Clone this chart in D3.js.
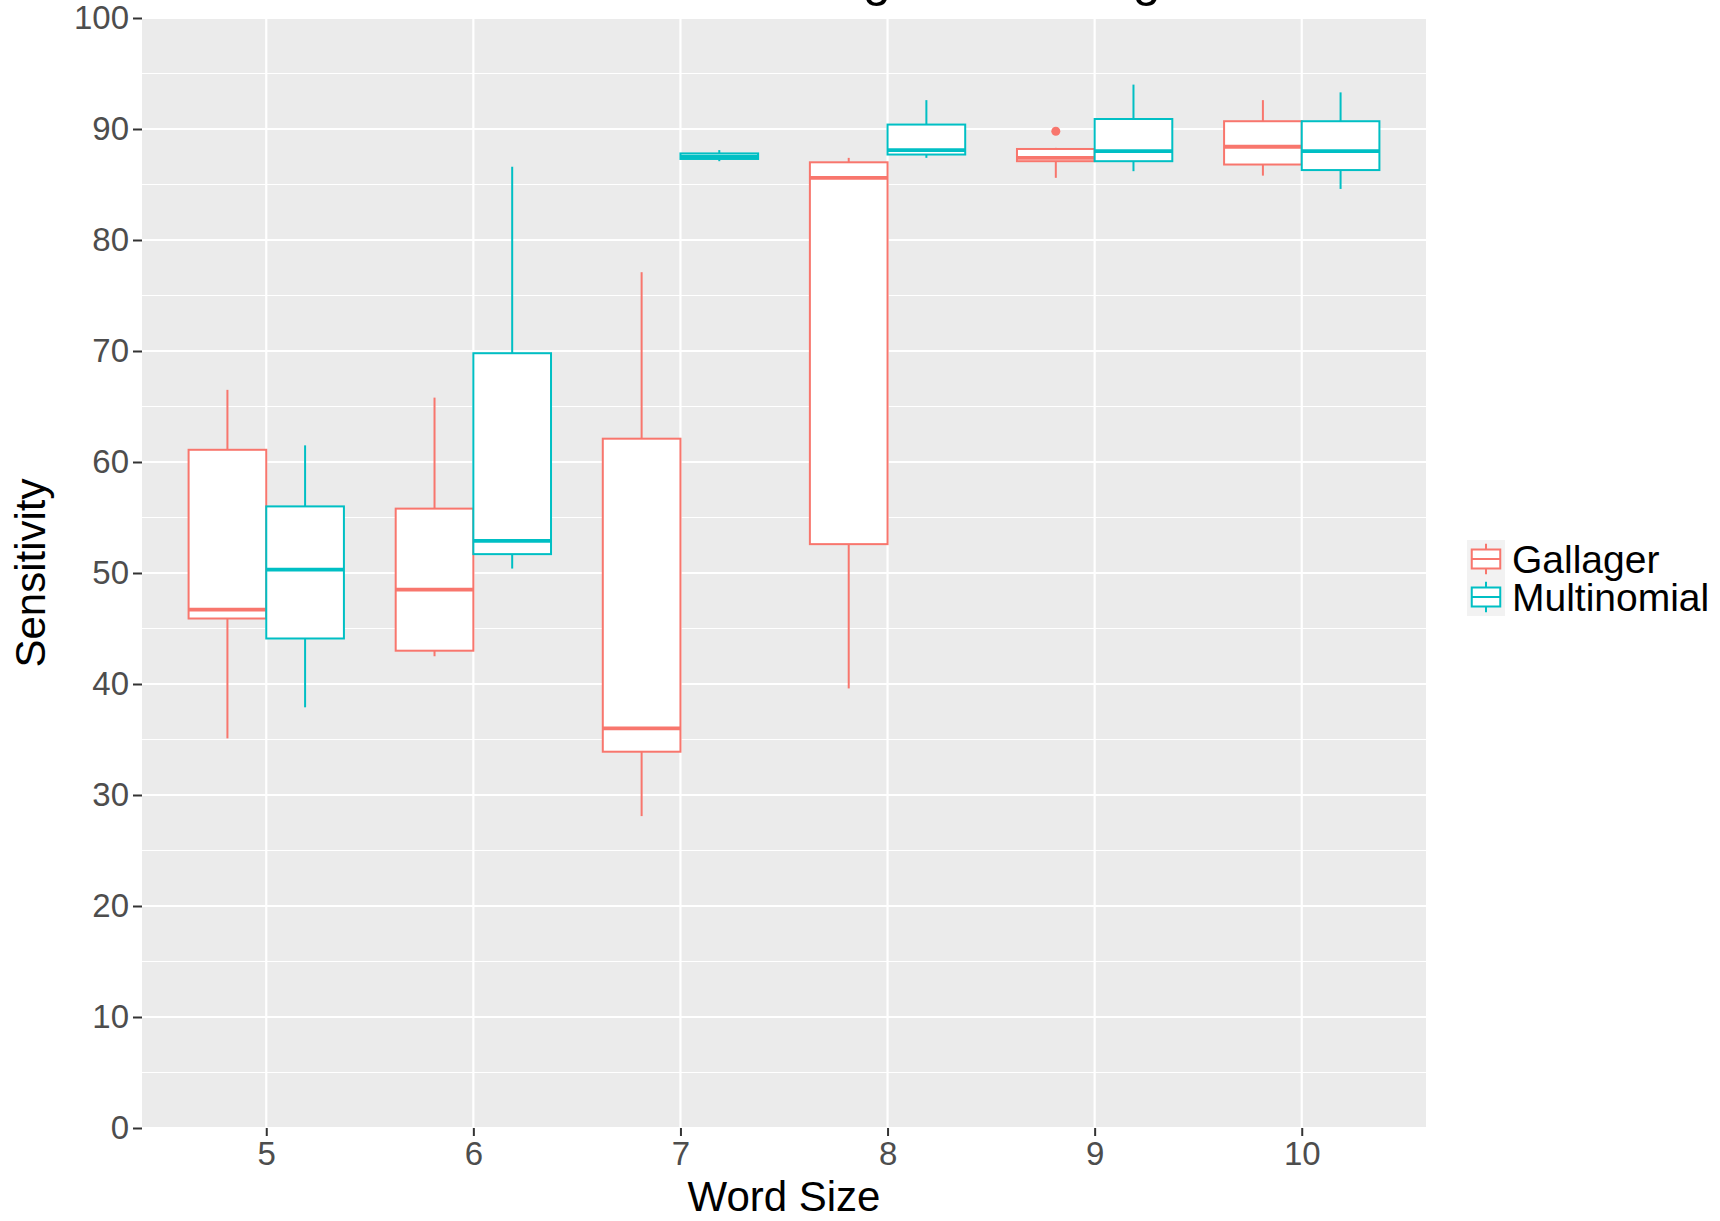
<!DOCTYPE html>
<html>
<head>
<meta charset="utf-8">
<script src="https://cdn.jsdelivr.net/npm/d3@7"></script>
<style>
  body { margin: 0; background: #fff; }
  svg { display: block; font-family: "Liberation Sans", Arial, sans-serif; }
</style>
</head>
<body>
<div id="chart"></div>
<script>
// categories
const wordSizes = ["5", "6", "7", "8", "9", "10"];
const methods = ["Gallager", "Multinomial"];
const yTicks = [0, 10, 20, 30, 40, 50, 60, 70, 80, 90, 100];

// box stats, one value per word size
const gallagerLow    = [35.1, 42.5, 28.1, 39.6, 85.6, 85.8];
const gallagerQ1     = [45.9, 43.0, 33.9, 52.6, 87.1, 86.8];
const gallagerMedian = [46.7, 48.5, 36.0, 85.6, 87.4, 88.4];
const gallagerQ3     = [61.1, 55.8, 62.1, 87.0, 88.2, 90.7];
const gallagerHigh   = [66.5, 65.8, 77.1, 87.4, 88.3, 92.6];

const multinomialLow    = [37.9, 50.4, 87.1, 87.4, 86.2, 84.6];
const multinomialQ1     = [44.1, 51.7, 87.3, 87.7, 87.1, 86.3];
const multinomialMedian = [50.3, 52.9, 87.5, 88.1, 88.0, 88.0];
const multinomialQ3     = [56.0, 69.8, 87.8, 90.4, 90.9, 90.7];
const multinomialHigh   = [61.5, 86.6, 88.1, 92.6, 94.0, 93.3];

// outliers
const outlierSizes   = ["9"];
const outlierMethods = ["Gallager"];
const outlierValues  = [89.8];

const colors = { "Gallager": "#F8766D", "Multinomial": "#00BFC4" };

function init() {
  const W = 1720, H = 1221;
  const panel = { left: 142, right: 1426, top: 18, bottom: 1128 };

  const boxes = [];
  wordSizes.forEach((s, i) => {
    boxes.push({ size: s, method: "Gallager", lo: gallagerLow[i], q1: gallagerQ1[i], med: gallagerMedian[i], q3: gallagerQ3[i], hi: gallagerHigh[i] });
    boxes.push({ size: s, method: "Multinomial", lo: multinomialLow[i], q1: multinomialQ1[i], med: multinomialMedian[i], q3: multinomialQ3[i], hi: multinomialHigh[i] });
  });
  const outliers = outlierValues.map((v, i) => ({ size: outlierSizes[i], method: outlierMethods[i], value: v }));

  const x = d3.scalePoint()
      .domain(wordSizes)
      .range([panel.left, panel.right])
      .padding(0.6);

  const dodge = d3.scaleBand()
      .domain(methods)
      .range([-0.375 * x.step(), 0.375 * x.step()]);

  const y = d3.scaleLinear()
      .domain([0, 100])
      .range([panel.bottom, panel.top]);

  const svg = d3.select("#chart")
      .append("svg")
      .attr("width", W)
      .attr("height", H);

  // panel background + grid
  svg.append("rect")
      .attr("x", panel.left).attr("y", panel.top)
      .attr("width", panel.right - panel.left).attr("height", panel.bottom - panel.top)
      .attr("fill", "#EBEBEB");

  const minor = d3.range(5, 100, 10);
  svg.append("g").selectAll("line")
      .data(minor).enter().append("line")
      .attr("x1", panel.left).attr("x2", panel.right)
      .attr("y1", d => y(d)).attr("y2", d => y(d))
      .attr("stroke", "#fff").attr("stroke-width", 1.1);

  svg.append("g").selectAll("line")
      .data(yTicks).enter().append("line")
      .attr("x1", panel.left).attr("x2", panel.right)
      .attr("y1", d => y(d)).attr("y2", d => y(d))
      .attr("stroke", "#fff").attr("stroke-width", 2.2);

  svg.append("g").selectAll("line")
      .data(wordSizes).enter().append("line")
      .attr("x1", d => x(d)).attr("x2", d => x(d))
      .attr("y1", panel.top).attr("y2", panel.bottom)
      .attr("stroke", "#fff").attr("stroke-width", 2.2);

  // boxplots
  const bw = dodge.bandwidth();
  const g = svg.append("g").selectAll("g")
      .data(boxes).enter().append("g")
      .attr("transform", d => "translate(" + (x(d.size) + dodge(d.method)) + ",0)");

  g.append("line")
      .attr("x1", bw / 2).attr("x2", bw / 2)
      .attr("y1", d => y(d.hi)).attr("y2", d => y(d.q3))
      .attr("stroke", d => colors[d.method]).attr("stroke-width", 2);
  g.append("line")
      .attr("x1", bw / 2).attr("x2", bw / 2)
      .attr("y1", d => y(d.q1)).attr("y2", d => y(d.lo))
      .attr("stroke", d => colors[d.method]).attr("stroke-width", 2);
  g.append("rect")
      .attr("x", 0).attr("width", bw)
      .attr("y", d => y(d.q3)).attr("height", d => y(d.q1) - y(d.q3))
      .attr("fill", "#fff")
      .attr("stroke", d => colors[d.method]).attr("stroke-width", 2);
  g.append("line")
      .attr("x1", 0).attr("x2", bw)
      .attr("y1", d => y(d.med)).attr("y2", d => y(d.med))
      .attr("stroke", d => colors[d.method]).attr("stroke-width", 3.8);

  svg.append("g").selectAll("circle")
      .data(outliers).enter().append("circle")
      .attr("cx", d => x(d.size) + dodge(d.method) + bw / 2)
      .attr("cy", d => y(d.value))
      .attr("r", 4.5)
      .attr("fill", d => colors[d.method]);

  // axes
  const yAxis = svg.append("g")
      .attr("transform", "translate(" + panel.left + ",0)")
      .call(d3.axisLeft(y).tickValues(yTicks).tickSize(9).tickPadding(4));
  yAxis.select(".domain").remove();
  yAxis.selectAll("line").attr("stroke", "#333").attr("stroke-width", 2);
  yAxis.selectAll("text").attr("fill", "#4D4D4D").style("font-size", "33px")
      .style("font-family", "Liberation Sans, Arial, sans-serif");

  const xAxis = svg.append("g")
      .attr("transform", "translate(0," + panel.bottom + ")")
      .call(d3.axisBottom(x).tickSize(8).tickPadding(6));
  xAxis.select(".domain").remove();
  xAxis.selectAll("line").attr("stroke", "#333").attr("stroke-width", 2);
  xAxis.selectAll("text").attr("fill", "#4D4D4D").style("font-size", "33px")
      .style("font-family", "Liberation Sans, Arial, sans-serif");

  // axis titles
  svg.append("text")
      .attr("x", (panel.left + panel.right) / 2)
      .attr("y", 1211)
      .attr("text-anchor", "middle")
      .style("font-size", "42px")
      .text("Word Size");

  svg.append("text")
      .attr("transform", "translate(45," + ((panel.top + panel.bottom) / 2) + ") rotate(-90)")
      .attr("text-anchor", "middle")
      .style("font-size", "42px")
      .text("Sensitivity");

  // title, mostly cut off above the page
  const title = svg.append("text")
      .attr("x", 0)
      .attr("y", -4)
      .style("font-size", "50px")
      .text("Effect of Word Length on Gallager and Multinomial");
  const tnode = title.node();
  const gi = tnode.textContent.indexOf("g");
  const ext = tnode.getExtentOfChar(gi);
  title.attr("x", 877 - (ext.x + ext.width / 2));

  // legend
  const key = 38;
  const legend = svg.append("g")
      .attr("transform", "translate(1467,540)");
  const item = legend.selectAll("g")
      .data(methods).enter().append("g")
      .attr("transform", (d, i) => "translate(0," + (i * key) + ")");
  item.append("rect")
      .attr("width", key).attr("height", key)
      .attr("fill", "#F2F2F2");
  item.append("line")
      .attr("x1", key / 2).attr("x2", key / 2)
      .attr("y1", key * 0.1).attr("y2", key * 0.9)
      .attr("stroke", d => colors[d]).attr("stroke-width", 2);
  item.append("rect")
      .attr("x", key * 0.125).attr("width", key * 0.75)
      .attr("y", key * 0.25).attr("height", key * 0.5)
      .attr("fill", "#fff")
      .attr("stroke", d => colors[d]).attr("stroke-width", 2);
  item.append("line")
      .attr("x1", key * 0.125).attr("x2", key * 0.875)
      .attr("y1", key / 2).attr("y2", key / 2)
      .attr("stroke", d => colors[d]).attr("stroke-width", 2);
  item.append("text")
      .attr("x", key + 7)
      .attr("y", key / 2 + 14)
      .style("font-size", "39px")
      .attr("fill", "#000")
      .text(d => d);
}

window.onload = init;
</script>
</body>
</html>
